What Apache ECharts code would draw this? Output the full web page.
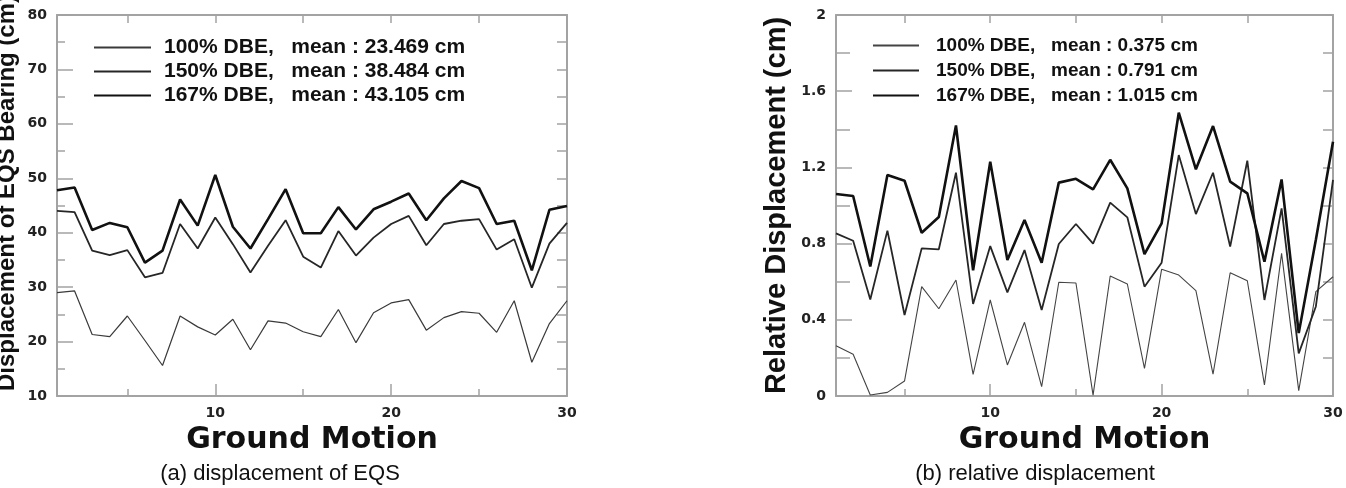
<!DOCTYPE html>
<html>
<head>
<meta charset="utf-8">
<title>EQS bearing displacement</title>
<script src="https://cdn.jsdelivr.net/npm/echarts@6/dist/echarts.min.js"></script>
<style>
  html, body { margin: 0; padding: 0; background: #fff; }
  #chart { width: 1346px; height: 488px; }
</style>
</head>
<body>
<div id="chart"></div>
<script>
// ground motion numbers 1..30
const motions = [1, 2, 3, 4, 5, 6, 7, 8, 9, 10, 11, 12, 13, 14, 15,
  16, 17, 18, 19, 20, 21, 22, 23, 24, 25, 26, 27, 28, 29, 30]

// (a) displacement of EQS bearing (cm)
const eqs100 = [29.0, 29.3, 21.3, 20.9, 24.7, 20.2, 15.6, 24.7, 22.7, 21.2, 24.1, 18.5, 23.8, 23.4, 21.8,
  20.9, 25.9, 19.8, 25.3, 27.1, 27.7, 22.1, 24.4, 25.5, 25.2, 21.7, 27.5, 16.2, 23.3, 27.5]
const eqs150 = [44.0, 43.8, 36.7, 35.9, 36.8, 31.8, 32.6, 41.6, 37.1, 42.8, 37.9, 32.7, 37.6, 42.3, 35.6,
  33.6, 40.3, 35.8, 39.1, 41.6, 43.1, 37.7, 41.6, 42.2, 42.5, 36.9, 38.8, 29.9, 38.0, 41.8]
const eqs167 = [47.8, 48.3, 40.5, 41.8, 41.0, 34.5, 36.7, 46.1, 41.3, 50.6, 41.1, 37.1, 42.5, 48.0, 39.9,
  39.9, 44.7, 40.6, 44.3, 45.7, 47.2, 42.3, 46.3, 49.5, 48.2, 41.6, 42.2, 33.1, 44.2, 44.9]

// (b) relative displacement (cm)
const rel100 = [0.264, 0.219, 0.005, 0.019, 0.079, 0.574, 0.458, 0.609, 0.114, 0.504, 0.163, 0.387, 0.049, 0.597, 0.593,
  0.005, 0.630, 0.588, 0.145, 0.665, 0.635, 0.553, 0.115, 0.647, 0.605, 0.058, 0.749, 0.028, 0.548, 0.626]
const rel150 = [0.854, 0.815, 0.507, 0.868, 0.425, 0.775, 0.770, 1.172, 0.483, 0.787, 0.544, 0.766, 0.451, 0.798, 0.903,
  0.800, 1.015, 0.938, 0.574, 0.700, 1.265, 0.955, 1.172, 0.784, 1.235, 0.504, 0.985, 0.224, 0.470, 1.134]
const rel167 = [1.060, 1.050, 0.680, 1.160, 1.130, 0.857, 0.940, 1.420, 0.660, 1.230, 0.714, 0.924, 0.700, 1.120, 1.140,
  1.085, 1.240, 1.090, 0.745, 0.906, 1.487, 1.190, 1.417, 1.125, 1.064, 0.705, 1.137, 0.330, 0.820, 1.335]

// legend texts
const eqsNames = ['100% DBE,   mean : 23.469 cm', '150% DBE,   mean : 38.484 cm', '167% DBE,   mean : 43.105 cm']
const relNames = ['100% DBE,   mean : 0.375 cm', '150% DBE,   mean : 0.791 cm', '167% DBE,   mean : 1.015 cm']

// tick positions on the ground motion axis
const xLabelTicks = [10, 20, 30]
const xMajorTicks = [10, 20]
const xMinorTicks = [5, 15, 25]
const xTopTicks = [5, 10, 15, 20, 25]

const captions = ['(a) displacement of EQS', '(b) relative displacement']

const FONT = '"Liberation Sans", Arial, sans-serif'
const WIDE = '"DejaVu Sans", Verdana, sans-serif'
const BORDER = '#a3a3a3'

const chart = echarts.init(document.getElementById('chart'))

const pairs = (vals) => motions.map((m, i) => [m, vals[i]])

// x axes for one grid: labelled bottom, minor ticks bottom, ticks on top
const xAxesFor = (gridIndex) => [
  {
    gridIndex, type: 'value', min: 1, max: 30, position: 'bottom',
    name: 'Ground Motion', nameLocation: 'middle', nameGap: 29,
    nameTextStyle: { fontFamily: WIDE, fontWeight: 'bold', fontSize: 30, color: '#111' },
    axisLine: { show: true, lineStyle: { color: BORDER, width: 2 } },
    axisTick: { show: true, inside: true, length: 12, customValues: xMajorTicks, lineStyle: { color: BORDER, width: 1.5 } },
    axisLabel: { customValues: xLabelTicks, margin: 10, fontFamily: WIDE, fontWeight: 'bold', fontSize: 14, color: '#222' },
    splitLine: { show: false }
  },
  {
    gridIndex, type: 'value', min: 1, max: 30, position: 'bottom',
    axisLine: { show: false },
    axisTick: { show: true, inside: true, length: 7, customValues: xMinorTicks, lineStyle: { color: BORDER, width: 1.5 } },
    axisLabel: { show: false },
    splitLine: { show: false }
  },
  {
    gridIndex, type: 'value', min: 1, max: 30, position: 'top',
    axisLine: { show: true, lineStyle: { color: BORDER, width: 2 } },
    axisTick: { show: true, inside: true, length: 8, customValues: xTopTicks, lineStyle: { color: BORDER, width: 1.5 } },
    axisLabel: { show: false },
    splitLine: { show: false }
  }
]

// y axes for one grid: labelled left, ticks on right
const yAxesFor = (gridIndex, min, max, interval, name, nameSize, nameGap, namePad, majorLen, minorLen) => [
  {
    gridIndex, type: 'value', min, max, interval, position: 'left',
    name, nameLocation: 'middle', nameGap, nameRotate: 90,
    nameTextStyle: { fontFamily: FONT, fontWeight: 'bold', fontSize: nameSize, color: '#111', padding: [0, 0, 0, namePad] },
    axisLine: { show: true, lineStyle: { color: BORDER, width: 2 } },
    axisTick: { show: true, inside: true, length: majorLen, lineStyle: { color: BORDER, width: 1.5 } },
    minorTick: { show: true, splitNumber: 2, length: minorLen, lineStyle: { color: BORDER, width: 1.5 } },
    axisLabel: { margin: 10, fontFamily: WIDE, fontWeight: 'bold', fontSize: 14, color: '#222' },
    splitLine: { show: false }
  },
  {
    gridIndex, type: 'value', min, max, interval: interval / 2, position: 'right',
    axisLine: { show: true, lineStyle: { color: BORDER, width: 2 } },
    axisTick: { show: true, inside: true, length: 10, lineStyle: { color: BORDER, width: 1.5 } },
    axisLabel: { show: false },
    splitLine: { show: false }
  }
]

const lineSeries = (name, vals, xAxisIndex, yAxisIndex, width, color) => ({
  name, type: 'line', xAxisIndex, yAxisIndex,
  data: pairs(vals),
  symbol: 'none',
  lineStyle: { width, color },
  itemStyle: { color },
  animation: false
})

// legend shows only the line sample, the symbol is hidden
const legendFor = (data, left, top, itemWidth, fontSize, gap, textPad) => ({
  data, orient: 'vertical', left, top,
  itemWidth, itemHeight: 12, itemGap: gap,
  itemStyle: { opacity: 0 },
  textStyle: { fontFamily: FONT, fontWeight: 'bold', fontSize, color: '#111', padding: [0, 0, 0, textPad] }
})

const option = {
  backgroundColor: '#fff',
  animation: false,
  // fixed plot boxes, the left axis title may run off the top as in the original
  grid: [
    { left: 57, top: 15, width: 510, height: 381, containLabel: false, outerBoundsMode: 'none' },
    { left: 836, top: 15, width: 497, height: 381, containLabel: false, outerBoundsMode: 'none' }
  ],
  xAxis: [...xAxesFor(0), ...xAxesFor(1)],
  yAxis: [
    ...yAxesFor(0, 10, 80, 10, 'Displacement of EQS Bearing (cm)', 24, 38, 25, 16, 8),
    ...yAxesFor(1, 0, 2, 0.4, 'Relative Displacement (cm)', 29, 45, 0, 16, 14)
  ],
  legend: [
    legendFor(eqsNames, 88, 32, 57, 21, 3, 8),
    legendFor(relNames, 867, 31, 46, 19, 6, 12)
  ],
  series: [
    lineSeries(eqsNames[0], eqs100, 0, 0, 1.2, '#3a3a3a'),
    lineSeries(eqsNames[1], eqs150, 0, 0, 1.8, '#262626'),
    lineSeries(eqsNames[2], eqs167, 0, 0, 2.6, '#111'),
    lineSeries(relNames[0], rel100, 3, 2, 1.1, '#444'),
    lineSeries(relNames[1], rel150, 3, 2, 1.8, '#262626'),
    lineSeries(relNames[2], rel167, 3, 2, 2.6, '#111')
  ],
  graphic: [
    { type: 'text', x: 280, y: 474, style: { text: captions[0], font: '22px ' + FONT, fill: '#111', align: 'center', verticalAlign: 'middle' } },
    { type: 'text', x: 1035, y: 474, style: { text: captions[1], font: '22px ' + FONT, fill: '#111', align: 'center', verticalAlign: 'middle' } }
  ]
}

chart.setOption(option)
</script>
</body>
</html>
